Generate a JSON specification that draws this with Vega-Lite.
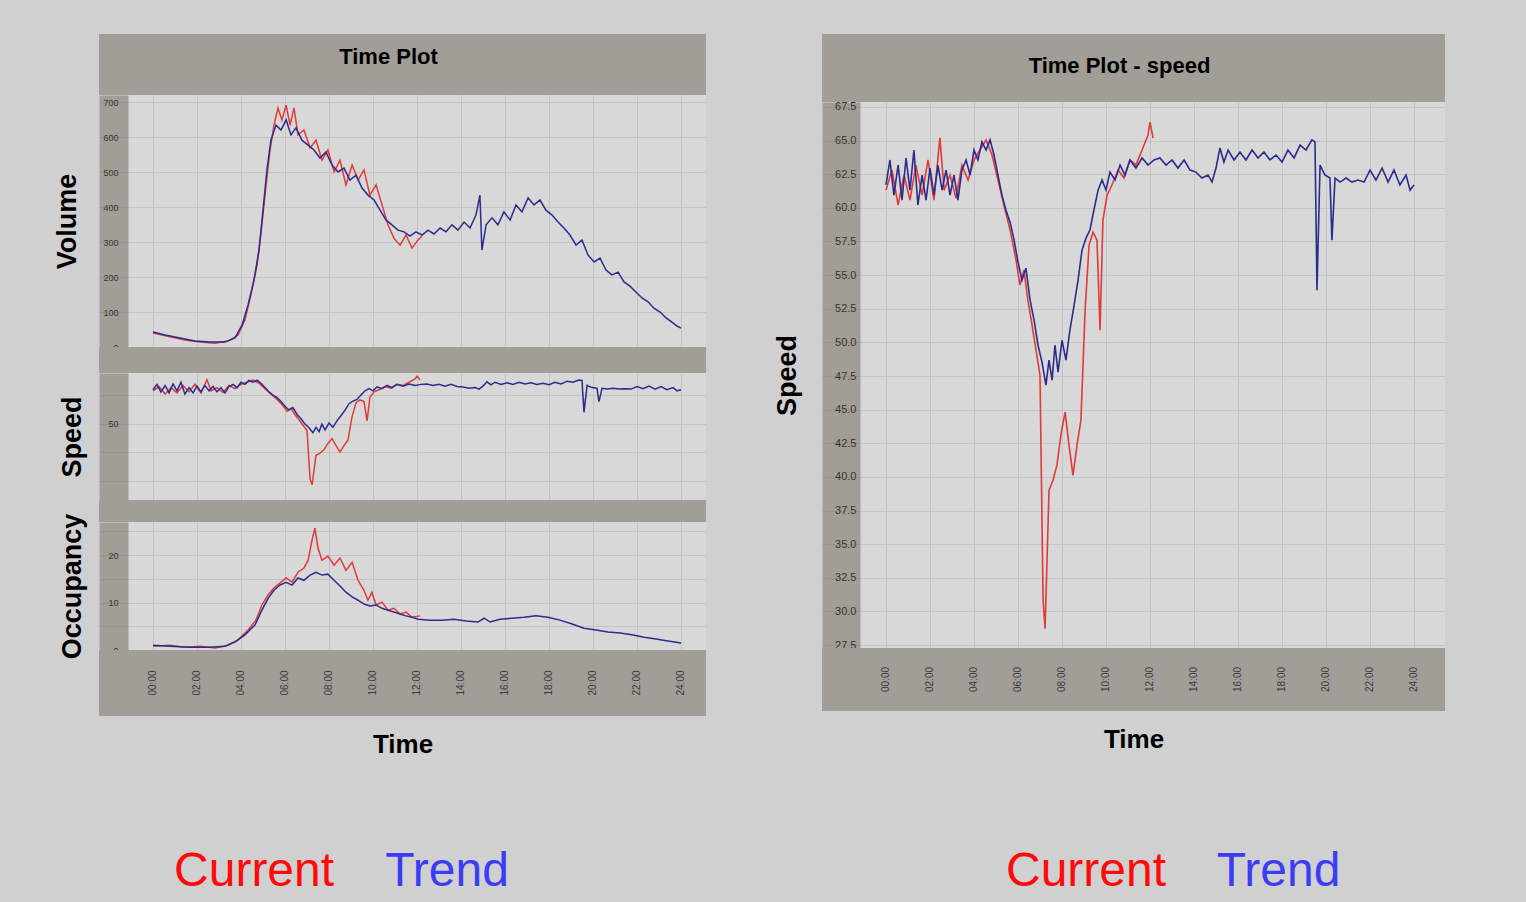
{
"$schema": "https://vega.github.io/schema/vega-lite/v6.json",
"background": "#d0d0d0",
"padding": {"left": 53, "top": 34, "right": 81, "bottom": 1},
"config": {"view": {"stroke": null}, "font": "Liberation Sans", "axis": {"gridColor": "#c4c4c4", "gridWidth": 1, "labelColor": "#000000", "labelFont": "Liberation Sans"}},
"datasets": {
"ticks": [{"h":0,"lab":"00:00"},{"h":2,"lab":"02:00"},{"h":4,"lab":"04:00"},{"h":6,"lab":"06:00"},{"h":8,"lab":"08:00"},{"h":10,"lab":"10:00"},{"h":12,"lab":"12:00"},{"h":14,"lab":"14:00"},{"h":16,"lab":"16:00"},{"h":18,"lab":"18:00"},{"h":20,"lab":"20:00"},{"h":22,"lab":"22:00"},{"h":24,"lab":"24:00"}],
"vol": [
{"h":0,"v":40,"s":"Current"},{"h":0.77,"v":29,"s":"Current"},{"h":1.45,"v":20,"s":"Current"},{"h":2.14,"v":14,"s":"Current"},{"h":2.82,"v":11,"s":"Current"},{"h":3.41,"v":17,"s":"Current"},{"h":3.86,"v":34,"s":"Current"},{"h":4.18,"v":77,"s":"Current"},{"h":4.45,"v":149,"s":"Current"},{"h":4.73,"v":234,"s":"Current"},{"h":4.95,"v":349,"s":"Current"},{"h":5.14,"v":463,"s":"Current"},{"h":5.32,"v":563,"s":"Current"},{"h":5.5,"v":634,"s":"Current"},{"h":5.68,"v":683,"s":"Current"},{"h":5.86,"v":649,"s":"Current"},{"h":6.05,"v":691,"s":"Current"},{"h":6.23,"v":634,"s":"Current"},{"h":6.41,"v":683,"s":"Current"},{"h":6.59,"v":606,"s":"Current"},{"h":6.86,"v":620,"s":"Current"},{"h":7.14,"v":569,"s":"Current"},{"h":7.41,"v":591,"s":"Current"},{"h":7.68,"v":534,"s":"Current"},{"h":7.95,"v":563,"s":"Current"},{"h":8.23,"v":500,"s":"Current"},{"h":8.5,"v":534,"s":"Current"},{"h":8.77,"v":463,"s":"Current"},{"h":9.05,"v":520,"s":"Current"},{"h":9.32,"v":477,"s":"Current"},{"h":9.59,"v":506,"s":"Current"},{"h":9.86,"v":434,"s":"Current"},{"h":10.14,"v":463,"s":"Current"},{"h":10.41,"v":406,"s":"Current"},{"h":10.68,"v":349,"s":"Current"},{"h":10.95,"v":311,"s":"Current"},{"h":11.23,"v":291,"s":"Current"},{"h":11.5,"v":320,"s":"Current"},{"h":11.77,"v":283,"s":"Current"},{"h":12.05,"v":306,"s":"Current"},{"h":12.23,"v":317,"s":"Current"},
{"h":0,"v":43,"s":"Trend"},{"h":0.55,"v":34,"s":"Trend"},{"h":1.23,"v":26,"s":"Trend"},{"h":1.91,"v":17,"s":"Trend"},{"h":2.59,"v":14,"s":"Trend"},{"h":3.27,"v":14,"s":"Trend"},{"h":3.73,"v":26,"s":"Trend"},{"h":4.05,"v":63,"s":"Trend"},{"h":4.32,"v":120,"s":"Trend"},{"h":4.59,"v":191,"s":"Trend"},{"h":4.82,"v":277,"s":"Trend"},{"h":5.0,"v":391,"s":"Trend"},{"h":5.18,"v":506,"s":"Trend"},{"h":5.36,"v":591,"s":"Trend"},{"h":5.59,"v":634,"s":"Trend"},{"h":5.82,"v":620,"s":"Trend"},{"h":6.05,"v":649,"s":"Trend"},{"h":6.27,"v":606,"s":"Trend"},{"h":6.5,"v":626,"s":"Trend"},{"h":6.77,"v":591,"s":"Trend"},{"h":7.05,"v":577,"s":"Trend"},{"h":7.32,"v":563,"s":"Trend"},{"h":7.59,"v":540,"s":"Trend"},{"h":7.86,"v":557,"s":"Trend"},{"h":8.14,"v":520,"s":"Trend"},{"h":8.41,"v":500,"s":"Trend"},{"h":8.68,"v":511,"s":"Trend"},{"h":8.95,"v":477,"s":"Trend"},{"h":9.23,"v":491,"s":"Trend"},{"h":9.5,"v":454,"s":"Trend"},{"h":9.77,"v":434,"s":"Trend"},{"h":10.05,"v":420,"s":"Trend"},{"h":10.32,"v":391,"s":"Trend"},{"h":10.59,"v":363,"s":"Trend"},{"h":10.86,"v":349,"s":"Trend"},{"h":11.14,"v":334,"s":"Trend"},{"h":11.41,"v":329,"s":"Trend"},{"h":11.68,"v":317,"s":"Trend"},{"h":11.95,"v":329,"s":"Trend"},{"h":12.23,"v":320,"s":"Trend"},{"h":12.5,"v":334,"s":"Trend"},{"h":12.77,"v":323,"s":"Trend"},{"h":13.05,"v":340,"s":"Trend"},{"h":13.32,"v":329,"s":"Trend"},{"h":13.59,"v":349,"s":"Trend"},{"h":13.86,"v":334,"s":"Trend"},{"h":14.14,"v":357,"s":"Trend"},{"h":14.41,"v":340,"s":"Trend"},{"h":14.68,"v":377,"s":"Trend"},{"h":14.86,"v":434,"s":"Trend"},{"h":14.95,"v":277,"s":"Trend"},{"h":15.14,"v":349,"s":"Trend"},{"h":15.41,"v":369,"s":"Trend"},{"h":15.68,"v":349,"s":"Trend"},{"h":15.95,"v":386,"s":"Trend"},{"h":16.23,"v":363,"s":"Trend"},{"h":16.5,"v":406,"s":"Trend"},{"h":16.77,"v":386,"s":"Trend"},{"h":17.05,"v":426,"s":"Trend"},{"h":17.32,"v":406,"s":"Trend"},{"h":17.59,"v":420,"s":"Trend"},{"h":17.86,"v":391,"s":"Trend"},{"h":18.14,"v":377,"s":"Trend"},{"h":18.41,"v":357,"s":"Trend"},{"h":18.68,"v":340,"s":"Trend"},{"h":18.95,"v":320,"s":"Trend"},{"h":19.23,"v":291,"s":"Trend"},{"h":19.5,"v":306,"s":"Trend"},{"h":19.77,"v":263,"s":"Trend"},{"h":20.05,"v":243,"s":"Trend"},{"h":20.32,"v":254,"s":"Trend"},{"h":20.59,"v":220,"s":"Trend"},{"h":20.86,"v":206,"s":"Trend"},{"h":21.14,"v":214,"s":"Trend"},{"h":21.41,"v":186,"s":"Trend"},{"h":21.68,"v":174,"s":"Trend"},{"h":21.95,"v":157,"s":"Trend"},{"h":22.23,"v":140,"s":"Trend"},{"h":22.5,"v":129,"s":"Trend"},{"h":22.77,"v":111,"s":"Trend"},{"h":23.05,"v":100,"s":"Trend"},{"h":23.32,"v":83,"s":"Trend"},{"h":23.59,"v":71,"s":"Trend"},{"h":23.82,"v":60,"s":"Trend"},{"h":24.0,"v":54,"s":"Trend"}
],
"spd": [
{"h":0,"v":61.32,"s":"Current"},{"h":0.27,"v":62.81,"s":"Current"},{"h":0.55,"v":60.21,"s":"Current"},{"h":0.82,"v":62.44,"s":"Current"},{"h":1.09,"v":60.58,"s":"Current"},{"h":1.36,"v":63.18,"s":"Current"},{"h":1.64,"v":60.95,"s":"Current"},{"h":1.91,"v":63.56,"s":"Current"},{"h":2.18,"v":60.58,"s":"Current"},{"h":2.45,"v":65.2,"s":"Current"},{"h":2.64,"v":61.32,"s":"Current"},{"h":2.91,"v":62.44,"s":"Current"},{"h":3.18,"v":60.73,"s":"Current"},{"h":3.45,"v":63.18,"s":"Current"},{"h":3.73,"v":62.07,"s":"Current"},{"h":4.0,"v":63.56,"s":"Current"},{"h":4.27,"v":64.3,"s":"Current"},{"h":4.55,"v":65.05,"s":"Current"},{"h":4.82,"v":63.93,"s":"Current"},{"h":5.09,"v":62.07,"s":"Current"},{"h":5.36,"v":60.21,"s":"Current"},{"h":5.64,"v":58.35,"s":"Current"},{"h":5.91,"v":56.12,"s":"Current"},{"h":6.09,"v":54.26,"s":"Current"},{"h":6.27,"v":55.37,"s":"Current"},{"h":6.45,"v":53.14,"s":"Current"},{"h":6.64,"v":51.28,"s":"Current"},{"h":6.82,"v":49.42,"s":"Current"},{"h":7.0,"v":47.56,"s":"Current"},{"h":7.14,"v":30.82,"s":"Current"},{"h":7.23,"v":28.74,"s":"Current"},{"h":7.32,"v":33.8,"s":"Current"},{"h":7.41,"v":39.0,"s":"Current"},{"h":7.59,"v":39.75,"s":"Current"},{"h":7.77,"v":40.87,"s":"Current"},{"h":7.95,"v":43.1,"s":"Current"},{"h":8.14,"v":44.81,"s":"Current"},{"h":8.32,"v":42.35,"s":"Current"},{"h":8.5,"v":40.12,"s":"Current"},{"h":8.68,"v":42.35,"s":"Current"},{"h":8.86,"v":44.21,"s":"Current"},{"h":9.05,"v":52.4,"s":"Current"},{"h":9.23,"v":57.23,"s":"Current"},{"h":9.41,"v":58.2,"s":"Current"},{"h":9.59,"v":57.6,"s":"Current"},{"h":9.73,"v":50.91,"s":"Current"},{"h":9.86,"v":59.09,"s":"Current"},{"h":10.05,"v":60.95,"s":"Current"},{"h":10.27,"v":61.7,"s":"Current"},{"h":10.55,"v":62.81,"s":"Current"},{"h":10.82,"v":62.22,"s":"Current"},{"h":11.09,"v":63.56,"s":"Current"},{"h":11.36,"v":63.18,"s":"Current"},{"h":11.64,"v":64.3,"s":"Current"},{"h":11.91,"v":65.42,"s":"Current"},{"h":12.0,"v":66.38,"s":"Current"},{"h":12.14,"v":65.19,"s":"Current"},
{"h":0,"v":61.7,"s":"Trend"},{"h":0.18,"v":63.56,"s":"Trend"},{"h":0.36,"v":60.95,"s":"Trend"},{"h":0.55,"v":63.18,"s":"Trend"},{"h":0.73,"v":60.58,"s":"Trend"},{"h":0.91,"v":63.71,"s":"Trend"},{"h":1.09,"v":61.32,"s":"Trend"},{"h":1.27,"v":64.3,"s":"Trend"},{"h":1.45,"v":60.21,"s":"Trend"},{"h":1.64,"v":62.44,"s":"Trend"},{"h":1.82,"v":60.58,"s":"Trend"},{"h":2.0,"v":62.96,"s":"Trend"},{"h":2.18,"v":60.95,"s":"Trend"},{"h":2.36,"v":63.18,"s":"Trend"},{"h":2.55,"v":61.32,"s":"Trend"},{"h":2.73,"v":62.81,"s":"Trend"},{"h":2.91,"v":60.95,"s":"Trend"},{"h":3.09,"v":62.44,"s":"Trend"},{"h":3.27,"v":60.58,"s":"Trend"},{"h":3.45,"v":62.81,"s":"Trend"},{"h":3.64,"v":63.56,"s":"Trend"},{"h":3.82,"v":62.44,"s":"Trend"},{"h":4.0,"v":64.3,"s":"Trend"},{"h":4.18,"v":63.56,"s":"Trend"},{"h":4.36,"v":64.9,"s":"Trend"},{"h":4.55,"v":64.3,"s":"Trend"},{"h":4.73,"v":65.05,"s":"Trend"},{"h":4.91,"v":63.93,"s":"Trend"},{"h":5.09,"v":62.44,"s":"Trend"},{"h":5.27,"v":60.95,"s":"Trend"},{"h":5.45,"v":59.84,"s":"Trend"},{"h":5.64,"v":58.94,"s":"Trend"},{"h":5.82,"v":57.61,"s":"Trend"},{"h":6.0,"v":55.97,"s":"Trend"},{"h":6.18,"v":54.63,"s":"Trend"},{"h":6.36,"v":55.52,"s":"Trend"},{"h":6.55,"v":53.14,"s":"Trend"},{"h":6.73,"v":51.65,"s":"Trend"},{"h":6.91,"v":49.79,"s":"Trend"},{"h":7.09,"v":48.53,"s":"Trend"},{"h":7.27,"v":46.82,"s":"Trend"},{"h":7.41,"v":48.68,"s":"Trend"},{"h":7.55,"v":47.19,"s":"Trend"},{"h":7.68,"v":49.79,"s":"Trend"},{"h":7.82,"v":47.78,"s":"Trend"},{"h":8.0,"v":50.16,"s":"Trend"},{"h":8.18,"v":48.68,"s":"Trend"},{"h":8.36,"v":50.91,"s":"Trend"},{"h":8.55,"v":52.77,"s":"Trend"},{"h":8.73,"v":54.63,"s":"Trend"},{"h":8.91,"v":56.86,"s":"Trend"},{"h":9.09,"v":57.75,"s":"Trend"},{"h":9.27,"v":58.35,"s":"Trend"},{"h":9.45,"v":59.84,"s":"Trend"},{"h":9.64,"v":61.32,"s":"Trend"},{"h":9.82,"v":62.07,"s":"Trend"},{"h":10.0,"v":61.32,"s":"Trend"},{"h":10.18,"v":62.66,"s":"Trend"},{"h":10.41,"v":62.07,"s":"Trend"},{"h":10.64,"v":63.18,"s":"Trend"},{"h":10.86,"v":62.44,"s":"Trend"},{"h":11.09,"v":63.56,"s":"Trend"},{"h":11.36,"v":62.96,"s":"Trend"},{"h":11.64,"v":63.71,"s":"Trend"},{"h":11.91,"v":63.18,"s":"Trend"},{"h":12.18,"v":63.56,"s":"Trend"},{"h":12.45,"v":63.71,"s":"Trend"},{"h":12.73,"v":63.18,"s":"Trend"},{"h":13.0,"v":63.56,"s":"Trend"},{"h":13.27,"v":62.96,"s":"Trend"},{"h":13.55,"v":63.56,"s":"Trend"},{"h":13.82,"v":62.81,"s":"Trend"},{"h":14.09,"v":62.66,"s":"Trend"},{"h":14.36,"v":62.22,"s":"Trend"},{"h":14.64,"v":62.44,"s":"Trend"},{"h":14.82,"v":61.92,"s":"Trend"},{"h":15.0,"v":62.96,"s":"Trend"},{"h":15.18,"v":64.45,"s":"Trend"},{"h":15.36,"v":63.41,"s":"Trend"},{"h":15.55,"v":64.3,"s":"Trend"},{"h":15.82,"v":63.56,"s":"Trend"},{"h":16.09,"v":64.15,"s":"Trend"},{"h":16.36,"v":63.56,"s":"Trend"},{"h":16.64,"v":64.3,"s":"Trend"},{"h":16.91,"v":63.71,"s":"Trend"},{"h":17.18,"v":64.15,"s":"Trend"},{"h":17.45,"v":63.56,"s":"Trend"},{"h":17.73,"v":63.93,"s":"Trend"},{"h":18.0,"v":63.41,"s":"Trend"},{"h":18.27,"v":64.3,"s":"Trend"},{"h":18.55,"v":63.71,"s":"Trend"},{"h":18.82,"v":64.67,"s":"Trend"},{"h":19.09,"v":64.3,"s":"Trend"},{"h":19.36,"v":65.05,"s":"Trend"},{"h":19.5,"v":64.9,"s":"Trend"},{"h":19.59,"v":53.88,"s":"Trend"},{"h":19.73,"v":63.18,"s":"Trend"},{"h":19.95,"v":62.44,"s":"Trend"},{"h":20.18,"v":62.22,"s":"Trend"},{"h":20.27,"v":57.6,"s":"Trend"},{"h":20.41,"v":62.22,"s":"Trend"},{"h":20.64,"v":61.92,"s":"Trend"},{"h":20.91,"v":62.22,"s":"Trend"},{"h":21.18,"v":61.92,"s":"Trend"},{"h":21.45,"v":62.07,"s":"Trend"},{"h":21.73,"v":61.92,"s":"Trend"},{"h":22.0,"v":62.81,"s":"Trend"},{"h":22.27,"v":62.07,"s":"Trend"},{"h":22.55,"v":62.96,"s":"Trend"},{"h":22.82,"v":61.92,"s":"Trend"},{"h":23.09,"v":62.81,"s":"Trend"},{"h":23.36,"v":61.7,"s":"Trend"},{"h":23.64,"v":62.44,"s":"Trend"},{"h":23.82,"v":61.32,"s":"Trend"},{"h":24.0,"v":61.7,"s":"Trend"}
],
"occ": [
{"h":0,"v":0.8,"s":"Current"},{"h":0.77,"v":1.0,"s":"Current"},{"h":1.45,"v":0.6,"s":"Current"},{"h":2.14,"v":0.8,"s":"Current"},{"h":2.82,"v":0.4,"s":"Current"},{"h":3.41,"v":1.0,"s":"Current"},{"h":3.86,"v":2.1,"s":"Current"},{"h":4.32,"v":4.2,"s":"Current"},{"h":4.68,"v":6.3,"s":"Current"},{"h":4.95,"v":9.5,"s":"Current"},{"h":5.23,"v":11.6,"s":"Current"},{"h":5.5,"v":13.1,"s":"Current"},{"h":5.77,"v":14.1,"s":"Current"},{"h":6.05,"v":15.2,"s":"Current"},{"h":6.32,"v":14.3,"s":"Current"},{"h":6.59,"v":16.4,"s":"Current"},{"h":6.86,"v":17.3,"s":"Current"},{"h":7.05,"v":18.9,"s":"Current"},{"h":7.23,"v":23.2,"s":"Current"},{"h":7.36,"v":25.7,"s":"Current"},{"h":7.5,"v":21.5,"s":"Current"},{"h":7.68,"v":18.9,"s":"Current"},{"h":7.95,"v":19.8,"s":"Current"},{"h":8.23,"v":17.9,"s":"Current"},{"h":8.5,"v":19.4,"s":"Current"},{"h":8.77,"v":16.8,"s":"Current"},{"h":9.05,"v":18.5,"s":"Current"},{"h":9.32,"v":14.7,"s":"Current"},{"h":9.59,"v":12.6,"s":"Current"},{"h":9.77,"v":10.5,"s":"Current"},{"h":9.95,"v":12.2,"s":"Current"},{"h":10.14,"v":9.5,"s":"Current"},{"h":10.41,"v":10.1,"s":"Current"},{"h":10.68,"v":8.4,"s":"Current"},{"h":10.95,"v":8.8,"s":"Current"},{"h":11.23,"v":7.6,"s":"Current"},{"h":11.5,"v":8.0,"s":"Current"},{"h":11.77,"v":6.9,"s":"Current"},{"h":12.14,"v":7.2,"s":"Current"},
{"h":0,"v":1.0,"s":"Trend"},{"h":0.77,"v":0.8,"s":"Trend"},{"h":1.68,"v":0.6,"s":"Trend"},{"h":2.59,"v":0.6,"s":"Trend"},{"h":3.27,"v":0.8,"s":"Trend"},{"h":3.73,"v":1.7,"s":"Trend"},{"h":4.18,"v":3.2,"s":"Trend"},{"h":4.64,"v":5.3,"s":"Trend"},{"h":4.95,"v":8.4,"s":"Trend"},{"h":5.23,"v":10.9,"s":"Trend"},{"h":5.5,"v":12.6,"s":"Trend"},{"h":5.77,"v":13.7,"s":"Trend"},{"h":6.05,"v":14.3,"s":"Trend"},{"h":6.32,"v":13.7,"s":"Trend"},{"h":6.59,"v":15.2,"s":"Trend"},{"h":6.86,"v":14.7,"s":"Trend"},{"h":7.14,"v":15.8,"s":"Trend"},{"h":7.41,"v":16.4,"s":"Trend"},{"h":7.68,"v":15.8,"s":"Trend"},{"h":7.95,"v":16.0,"s":"Trend"},{"h":8.23,"v":14.7,"s":"Trend"},{"h":8.5,"v":13.5,"s":"Trend"},{"h":8.77,"v":12.2,"s":"Trend"},{"h":9.05,"v":11.2,"s":"Trend"},{"h":9.32,"v":10.5,"s":"Trend"},{"h":9.59,"v":9.7,"s":"Trend"},{"h":9.86,"v":9.3,"s":"Trend"},{"h":10.14,"v":9.5,"s":"Trend"},{"h":10.41,"v":8.8,"s":"Trend"},{"h":10.68,"v":8.4,"s":"Trend"},{"h":10.95,"v":8.0,"s":"Trend"},{"h":11.23,"v":7.6,"s":"Trend"},{"h":11.5,"v":7.2,"s":"Trend"},{"h":11.77,"v":6.9,"s":"Trend"},{"h":12.05,"v":6.5,"s":"Trend"},{"h":12.59,"v":6.3,"s":"Trend"},{"h":13.14,"v":6.3,"s":"Trend"},{"h":13.68,"v":6.5,"s":"Trend"},{"h":14.23,"v":6.1,"s":"Trend"},{"h":14.77,"v":5.9,"s":"Trend"},{"h":15.05,"v":6.7,"s":"Trend"},{"h":15.32,"v":5.9,"s":"Trend"},{"h":15.77,"v":6.5,"s":"Trend"},{"h":16.32,"v":6.7,"s":"Trend"},{"h":16.86,"v":6.9,"s":"Trend"},{"h":17.41,"v":7.2,"s":"Trend"},{"h":17.95,"v":6.9,"s":"Trend"},{"h":18.5,"v":6.3,"s":"Trend"},{"h":19.05,"v":5.5,"s":"Trend"},{"h":19.59,"v":4.6,"s":"Trend"},{"h":20.14,"v":4.2,"s":"Trend"},{"h":20.68,"v":3.8,"s":"Trend"},{"h":21.23,"v":3.6,"s":"Trend"},{"h":21.77,"v":3.2,"s":"Trend"},{"h":22.32,"v":2.7,"s":"Trend"},{"h":22.86,"v":2.3,"s":"Trend"},{"h":23.41,"v":1.9,"s":"Trend"},{"h":24.0,"v":1.5,"s":"Trend"}
]
},
"hconcat": [
{
"spacing": 0, "bounds": "flush",
"resolve": {"scale": {"x": "independent", "y": "independent"}},
"vconcat": [
{"width": 607, "height": 61, "view": {"fill": "#a09e96", "stroke": null}, "data": {"values": [{"t": "Time Plot"}]}, "mark": {"type": "text", "font": "Liberation Sans", "fontWeight": "bold", "fontSize": 22, "dx": -14, "dy": -8, "color": "#000000"}, "encoding": {"text": {"field": "t"}}},
{"width": 607, "height": 252, "view": {"fill": "#d8d8d8", "stroke": null}, "data": {"name": "vol"}, "mark": {"type": "line", "strokeWidth": 1.5},
 "encoding": {
  "x": {"field": "h", "type": "quantitative", "scale": {"domain": [-2.4545, 25.136], "nice": false, "zero": false}, "axis": {"values": [0,2,4,6,8,10,12,14,16,18,20,22,24], "labels": false, "ticks": false, "domain": false, "grid": true, "title": null}},
  "y": {"field": "v", "type": "quantitative", "scale": {"domain": [0, 720], "nice": false}, "axis": {"values": [0,100,200,300,400,500,600,700], "offset": -14.5, "domain": true, "domainWidth": 29, "domainColor": "#686454", "domainOpacity": 0.5, "ticks": false, "labelPadding": -4.5, "labelFontSize": 9, "grid": true, "title": "Volume", "titleFont": "Liberation Sans", "titleFontSize": 27, "titleFontWeight": "bold", "titleColor": "#000000", "titlePadding": 21}},
  "stroke": {"field": "s", "type": "nominal", "scale": {"domain": ["Current", "Trend"], "range": ["#e03a3a", "#2c2c8c"]}, "legend": null}
 }},
{"width": 607, "height": 26, "view": {"fill": "#a09e96", "stroke": null}, "data": {"values": [{}]}, "mark": {"type": "text", "text": ""}},
{"width": 607, "height": 127, "view": {"fill": "#d8d8d8", "stroke": null}, "data": {"name": "spd"}, "mark": {"type": "line", "strokeWidth": 1.5},
 "encoding": {
  "x": {"field": "h", "type": "quantitative", "scale": {"domain": [-2.4545, 25.136], "nice": false, "zero": false}, "axis": {"values": [0,2,4,6,8,10,12,14,16,18,20,22,24], "labels": false, "ticks": false, "domain": false, "grid": true, "title": null}},
  "y": {"field": "v", "type": "quantitative", "scale": {"domain": [23.5, 67.5], "nice": false, "zero": false}, "axis": {"values": [30,40,50,60], "labelExpr": "datum.value == 50 ? '50' : ''", "offset": -14.5, "domain": true, "domainWidth": 29, "domainColor": "#686454", "domainOpacity": 0.5, "ticks": false, "labelPadding": -4.5, "labelFontSize": 9, "grid": true, "title": "Speed", "titleFont": "Liberation Sans", "titleFontSize": 27, "titleFontWeight": "bold", "titleColor": "#000000", "titlePadding": 21}},
  "stroke": {"field": "s", "type": "nominal", "scale": {"domain": ["Current", "Trend"], "range": ["#e03a3a", "#2c2c8c"]}, "legend": null}
 }},
{"width": 607, "height": 22, "view": {"fill": "#a09e96", "stroke": null}, "data": {"values": [{}]}, "mark": {"type": "text", "text": ""}},
{"width": 607, "height": 128, "view": {"fill": "#d8d8d8", "stroke": null}, "data": {"name": "occ"}, "mark": {"type": "line", "strokeWidth": 1.5},
 "encoding": {
  "x": {"field": "h", "type": "quantitative", "scale": {"domain": [-2.4545, 25.136], "nice": false, "zero": false}, "axis": {"values": [0,2,4,6,8,10,12,14,16,18,20,22,24], "labels": false, "ticks": false, "domain": false, "grid": true, "title": null}},
  "y": {"field": "v", "type": "quantitative", "scale": {"domain": [0, 27], "nice": false}, "axis": {"values": [0,5,10,15,20,25], "labelExpr": "datum.value % 10 == 0 ? datum.label : ''", "offset": -14.5, "domain": true, "domainWidth": 29, "domainColor": "#686454", "domainOpacity": 0.5, "ticks": false, "labelPadding": -4.5, "labelFontSize": 9, "grid": true, "title": "Occupancy", "titleFont": "Liberation Sans", "titleFontSize": 27, "titleFontWeight": "bold", "titleColor": "#000000", "titlePadding": 21}},
  "stroke": {"field": "s", "type": "nominal", "scale": {"domain": ["Current", "Trend"], "range": ["#e03a3a", "#2c2c8c"]}, "legend": null}
 }},
{"width": 607, "height": 66, "view": {"fill": "#a09e96", "stroke": null}, "data": {"name": "ticks"}, "mark": {"type": "text", "angle": 270, "fontSize": 10, "color": "#3a3a3a"},
 "encoding": {
  "x": {"field": "h", "type": "quantitative", "scale": {"domain": [-2.4545, 25.136], "nice": false, "zero": false}, "axis": {"orient": "bottom", "labels": false, "ticks": false, "domain": false, "grid": false, "title": "Time", "titleFont": "Liberation Sans", "titleFontSize": 26, "titleFontWeight": "bold", "titleColor": "#000000", "titlePadding": 15}},
  "text": {"field": "lab"}
 }},
{"width": 607, "height": 180, "view": {"fill": null, "stroke": null}, "data": {"values": [{"label": "Current"}, {"label": "Trend"}]}, "mark": {"type": "text", "fontSize": 48, "dy": 66, "font": "Liberation Sans"},
 "encoding": {
  "x": {"field": "label", "type": "nominal", "scale": {"type": "band", "paddingInner": 0, "paddingOuter": 0.5725, "align": 0.265}, "axis": null},
  "text": {"field": "label"},
  "color": {"field": "label", "type": "nominal", "scale": {"domain": ["Current", "Trend"], "range": ["#ff0a0a", "#3c3cf5"]}, "legend": null}
 }}
]
},
{
"spacing": 0, "bounds": "flush",
"resolve": {"scale": {"x": "independent", "y": "independent"}},
"vconcat": [
{"width": 623, "height": 68, "view": {"fill": "#a09e96", "stroke": null}, "data": {"values": [{"t": "Time Plot - speed"}]}, "mark": {"type": "text", "font": "Liberation Sans", "fontWeight": "bold", "fontSize": 22, "dx": -14, "dy": -2, "color": "#000000"}, "encoding": {"text": {"field": "t"}}},
{"width": 623, "height": 546, "view": {"fill": "#d8d8d8", "stroke": null}, "data": {"name": "spd"}, "mark": {"type": "line", "strokeWidth": 1.6},
 "encoding": {
  "x": {"field": "h", "type": "quantitative", "scale": {"domain": [-2.909, 25.409], "nice": false, "zero": false}, "axis": {"values": [0,2,4,6,8,10,12,14,16,18,20,22,24], "labels": false, "ticks": false, "domain": false, "grid": true, "title": null}},
  "y": {"field": "v", "type": "quantitative", "scale": {"domain": [27.28, 67.87], "nice": false, "zero": false}, "axis": {"values": [27.5,30,32.5,35,37.5,40,42.5,45,47.5,50,52.5,55,57.5,60,62.5,65,67.5], "format": ".1f", "offset": -19, "domain": true, "domainWidth": 38, "domainColor": "#686454", "domainOpacity": 0.5, "ticks": false, "labelPadding": -15, "labelFontSize": 11, "grid": true, "title": "Speed", "titleFont": "Liberation Sans", "titleFontSize": 27, "titleFontWeight": "bold", "titleColor": "#000000", "titlePadding": 33}},
  "stroke": {"field": "s", "type": "nominal", "scale": {"domain": ["Current", "Trend"], "range": ["#e03a3a", "#3030a0"]}, "legend": null}
 }},
{"width": 623, "height": 63, "view": {"fill": "#a09e96", "stroke": null}, "data": {"name": "ticks"}, "mark": {"type": "text", "angle": 270, "fontSize": 10, "color": "#3a3a3a"},
 "encoding": {
  "x": {"field": "h", "type": "quantitative", "scale": {"domain": [-2.909, 25.409], "nice": false, "zero": false}, "axis": {"orient": "bottom", "labels": false, "ticks": false, "domain": false, "grid": false, "title": "Time", "titleFont": "Liberation Sans", "titleFontSize": 26, "titleFontWeight": "bold", "titleColor": "#000000", "titlePadding": 15}},
  "text": {"field": "lab"}
 }},
{"width": 623, "height": 190, "view": {"fill": null, "stroke": null}, "data": {"values": [{"label": "Current"}, {"label": "Trend"}]}, "mark": {"type": "text", "fontSize": 48, "dy": 66, "font": "Liberation Sans"},
 "encoding": {
  "x": {"field": "label", "type": "nominal", "scale": {"type": "band", "paddingInner": 0, "paddingOuter": 0.618, "align": 0.705}, "axis": null},
  "text": {"field": "label"},
  "color": {"field": "label", "type": "nominal", "scale": {"domain": ["Current", "Trend"], "range": ["#ff0a0a", "#3c3cf5"]}, "legend": null}
 }}
]
}
],
"spacing": 67,
"resolve": {"scale": {"x": "independent", "y": "independent"}}
}
